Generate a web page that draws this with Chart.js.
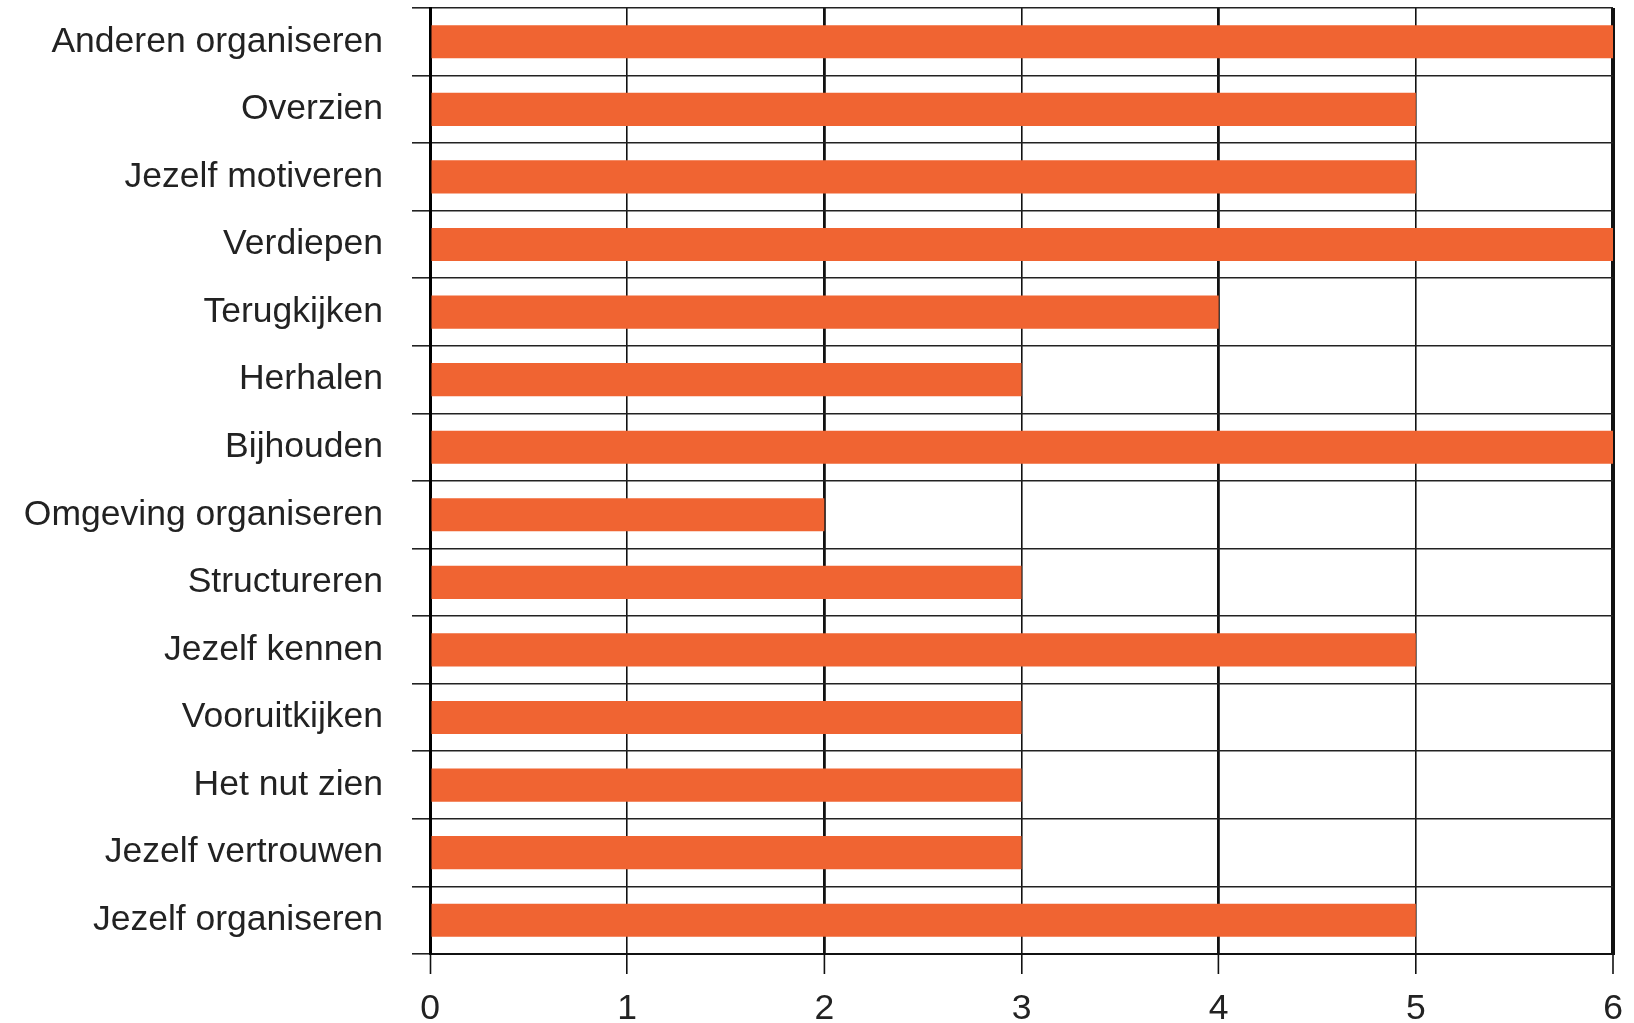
<!DOCTYPE html>
<html>
<head>
<meta charset="utf-8">
<script src="https://cdn.jsdelivr.net/npm/chart.js@4.4.0/dist/chart.umd.min.js"></script>
<style>
  html, body { margin: 0; padding: 0; background: #fff; }
  #wrap { width: 1634px; height: 1023px; }
</style>
</head>
<body>
<div id="wrap"><canvas id="skillsChart"></canvas></div>
<script>
// categories and values
const categories = [
    "Anderen organiseren",
    "Overzien",
    "Jezelf motiveren",
    "Verdiepen",
    "Terugkijken",
    "Herhalen",
    "Bijhouden",
    "Omgeving organiseren",
    "Structureren",
    "Jezelf kennen",
    "Vooruitkijken",
    "Het nut zien",
    "Jezelf vertrouwen",
    "Jezelf organiseren"
];
const scores = [6, 5, 5, 6, 4, 3, 6, 2, 3, 5, 3, 3, 3, 5];
const xTicks = [0, 1, 2, 3, 4, 5, 6];

const labelFont = { family: "'Liberation Sans', Arial, sans-serif", size: 35.5 };

const ctx = document.getElementById("skillsChart").getContext("2d");
const chart = new Chart(ctx, {
    type: "bar",
    data: {
        labels: categories,
        datasets: [{
            data: scores,
            backgroundColor: "#F06432",
            borderWidth: 0,
            barPercentage: 0.49,
            categoryPercentage: 1
        }]
    },
    options: {
        indexAxis: "y",
        responsive: true,
        maintainAspectRatio: false,
        animation: false,
        layout: { padding: { top: 8, right: 21, left: 0, bottom: 0 } },
        plugins: {
            legend: { display: false },
            tooltip: { enabled: false }
        },
        scales: {
            x: {
                min: xTicks[0],
                max: xTicks[xTicks.length - 1],
                afterBuildTicks: scale => {
                    scale.ticks = xTicks.map(v => ({ value: v }));
                },
                afterFit: scale => {
                    scale.height = 69;
                    scale.paddingLeft = 0;
                    scale.paddingRight = 0;
                },
                border: { display: true, color: "#111", width: 2 },
                grid: {
                    color: "#111",
                    lineWidth: c => {
                        if (c.index === 0) return 3;
                        if (c.index === xTicks.length - 1) return 4;
                        return c.index % 2 === 0 ? 2.8 : 1.6;
                    },
                    tickLength: 20,
                    tickColor: "#111",
                    tickWidth: 1.6
                },
                ticks: {
                    color: "#222",
                    font: labelFont,
                    padding: 14,
                    maxRotation: 0
                }
            },
            y: {
                afterFit: scale => {
                    // keep the plot flush with the top, labels do not need extra room
                    scale.width = 430;
                    scale.paddingTop = 0;
                    scale.paddingBottom = 0;
                },
                border: { display: true, color: "#000", width: 3 },
                grid: {
                    offset: true,
                    color: "#222",
                    lineWidth: 1.6,
                    tickLength: 18,
                    tickColor: "#222",
                    tickWidth: 1.6
                },
                ticks: {
                    color: "#222",
                    font: labelFont,
                    padding: 29
                }
            }
        }
    }
});
</script>
</body>
</html>
